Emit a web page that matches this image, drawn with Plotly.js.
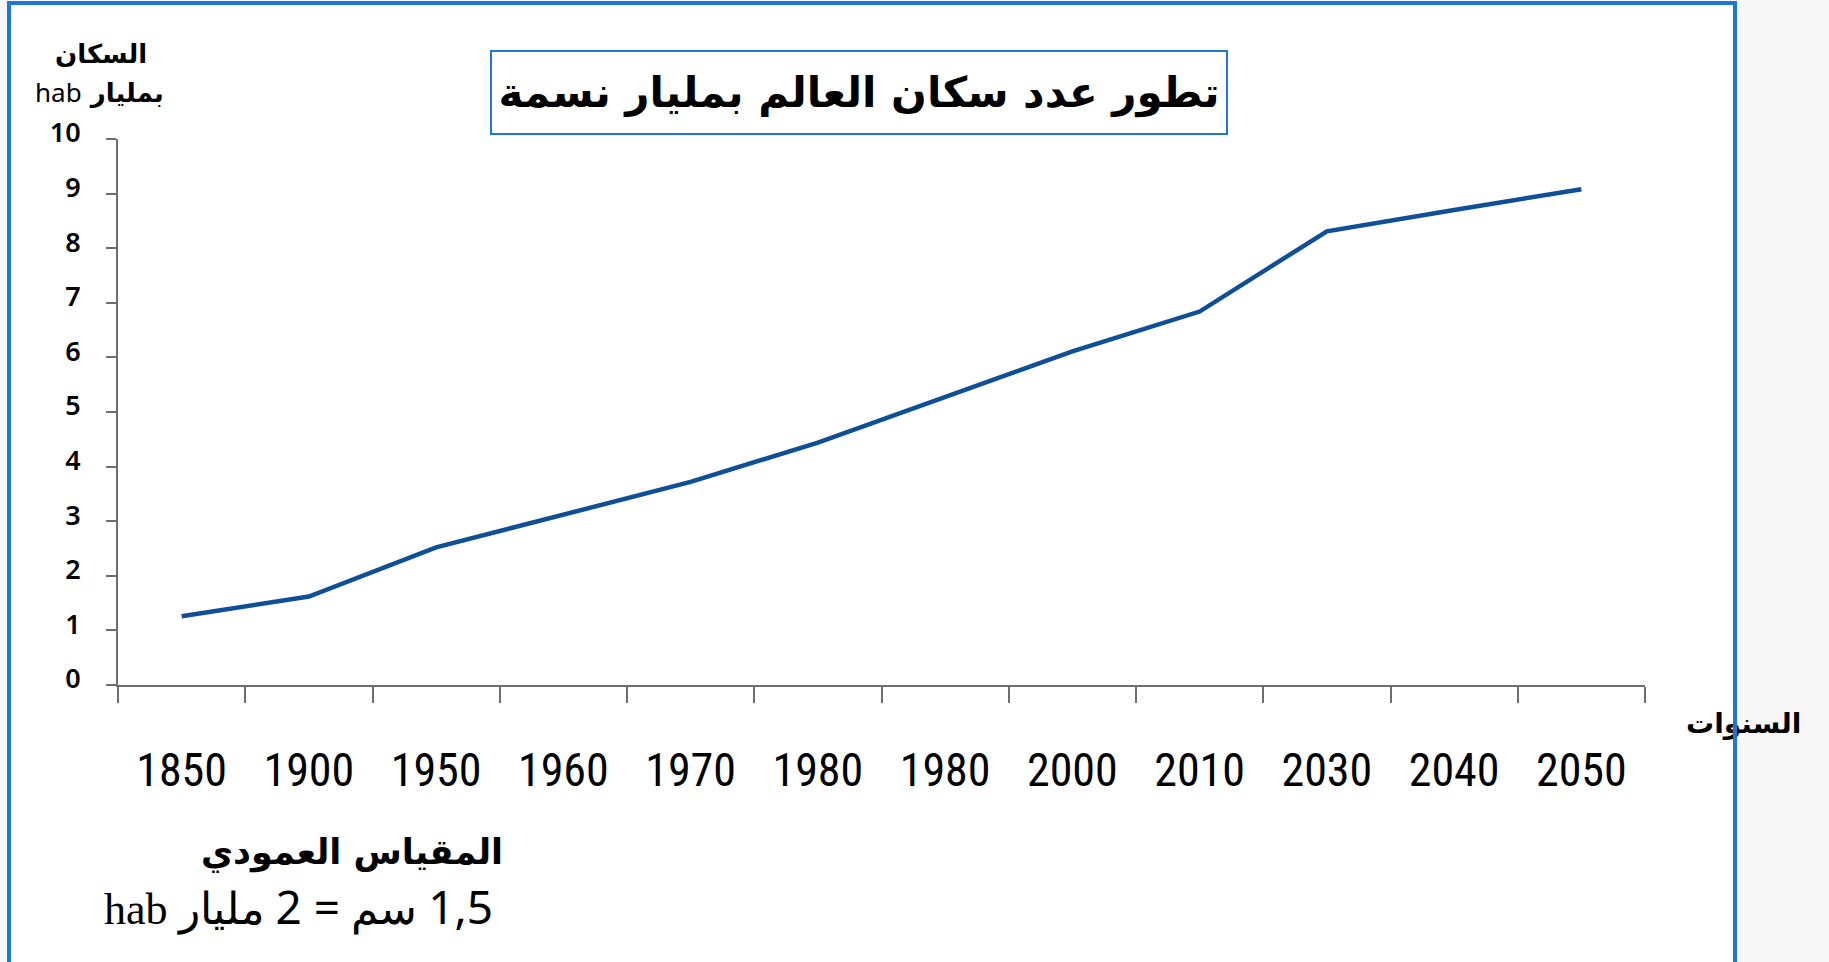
<!DOCTYPE html>
<html>
<head>
<meta charset="utf-8">
<script src="https://cdn.plot.ly/plotly-3.0.1.min.js"></script>
<style>
  html, body { margin: 0; padding: 0; }
  body { width: 1829px; height: 962px; background: #f7f7f7; position: relative; overflow: hidden; }
  #bg { position: absolute; left: 7px; top: 1px; width: 1729px; height: 961px; background: #ffffff; }
  #frame { position: absolute; left: 7px; top: 1px; width: 1722px; height: 961px; border: 4px solid #1f77d4; border-bottom: none; pointer-events: none; z-index: 5; }
  #chart { position: absolute; left: 0; top: 0; width: 1829px; height: 962px; z-index: 2; }
</style>
</head>
<body>
<div id="bg"></div>
<div id="chart"></div>
<div id="frame"></div>
<script>
// Data
const yearLabels = ["1850", "1900", "1950", "1960", "1970", "1980", "1980", "2000", "2010", "2030", "2040", "2050"];
const population = [1.26, 1.62, 2.52, 3.12, 3.72, 4.44, 5.28, 6.11, 6.84, 8.31, 8.70, 9.08];
const yTicks = [0, 1, 2, 3, 4, 5, 6, 7, 8, 9, 10];

const titleText = "تطور عدد سكان العالم بمليار نسمة";
const yTitleTop = "السكان";
const yTitleBottom = "بمليار";
const xTitleText = "السنوات";
const scaleTitle = "المقياس العمودي";

const positions = yearLabels.map((_, i) => i);
const boundaries = Array.from({length: yearLabels.length + 1}, (_, i) => i - 0.5);

const axisGray = "#6e6e6e";
const arabicFont = "DejaVu Sans, sans-serif";

const traces = [
  {
    x: positions, y: population, type: "scatter", mode: "lines",
    line: {color: "#0e4f95", width: 4.5},
    xaxis: "x", yaxis: "y", showlegend: false, hoverinfo: "skip"
  },
  {
    x: [], y: [], type: "scatter", mode: "lines",
    xaxis: "x2", yaxis: "y", showlegend: false, hoverinfo: "skip"
  }
];

const layout = {
  width: 1829, height: 962,
  margin: {l: 118, r: 184, t: 139, b: 277, pad: 0},
  paper_bgcolor: "rgba(0,0,0,0)",
  plot_bgcolor: "rgba(0,0,0,0)",
  showlegend: false,
  xaxis: {
    range: [-0.5, yearLabels.length - 0.5],
    tickmode: "array", tickvals: positions, ticktext: yearLabels,
    ticks: "outside", ticklen: 45, tickcolor: "rgba(0,0,0,0)",
    showline: false, showgrid: false, zeroline: false,
    tickfont: {family: "Liberation Sans Narrow, Roboto Condensed, Open Sans Condensed, DejaVu Sans Condensed, sans-serif", size: 46, color: "#000000"}
  },
  xaxis2: {
    overlaying: "x", anchor: "y", side: "bottom",
    range: [-0.5, yearLabels.length - 0.5],
    tickmode: "array", tickvals: boundaries, showticklabels: false,
    ticks: "outside", ticklen: 16, tickwidth: 2, tickcolor: axisGray,
    showline: true, linecolor: axisGray, linewidth: 2,
    showgrid: false, zeroline: false
  },
  yaxis: {
    range: [0, 10],
    tickmode: "array", tickvals: yTicks, ticktext: yTicks.map(String),
    ticks: "outside", ticklen: 10, tickwidth: 2, tickcolor: axisGray,
    ticklabelstandoff: 20, ticklabelshift: -6,
    showline: true, linecolor: axisGray, linewidth: 2,
    showgrid: false, zeroline: false,
    tickfont: {family: "Noto Sans, sans-serif", size: 27, color: "#000000", weight: 600}
  },
  annotations: [
    {
      xref: "paper", yref: "paper", x: 0.4853, y: 1.0852, xanchor: "center", yanchor: "middle",
      text: titleText, showarrow: false,
      font: {family: arabicFont, size: 42, color: "#000000", weight: "bold"},
      bordercolor: "#1f77d4", borderwidth: 2, borderpad: 0,
      width: 734, height: 81, bgcolor: "#ffffff"
    },
    {
      xref: "paper", yref: "paper", x: -0.0111, y: 1.1557, xanchor: "center", yanchor: "middle",
      text: yTitleTop, showarrow: false,
      font: {family: arabicFont, size: 26, color: "#000000", weight: "bold"}
    },
    {
      xref: "paper", yref: "paper", x: -0.0124, y: 1.0860, xanchor: "center", yanchor: "middle",
      text: "<span style='font-family:Noto Sans;font-weight:normal'>hab</span> " + yTitleBottom,
      showarrow: false,
      font: {family: arabicFont, size: 26, color: "#000000", weight: "bold"}
    },
    {
      xref: "paper", yref: "paper", x: 1.0648, y: -0.0696, xanchor: "center", yanchor: "middle",
      text: xTitleText, showarrow: false,
      font: {family: arabicFont, size: 28, color: "#000000", weight: "bold"}
    },
    {
      xref: "paper", yref: "paper", x: 0.1532, y: -0.3060, xanchor: "center", yanchor: "middle",
      text: scaleTitle, showarrow: false,
      font: {family: arabicFont, size: 35, color: "#000000", weight: "bold"}
    },
    {
      xref: "paper", yref: "paper", x: 0.1179, y: -0.4047, xanchor: "center", yanchor: "middle",
      text: "<span style='font-family:Liberation Serif'>hab مليار</span>\u200E <span style='font-family:Noto Sans;font-size:46px'>2 =</span> <span style='font-family:Liberation Serif'>سم</span>\u200E <span style='font-family:Noto Sans;font-size:46px'>1,5</span>",
      showarrow: false,
      font: {family: "Liberation Serif, serif", size: 44, color: "#000000"}
    }
  ]
};

Plotly.newPlot("chart", traces, layout, {displayModeBar: false, staticPlot: true});
</script>
</body>
</html>
